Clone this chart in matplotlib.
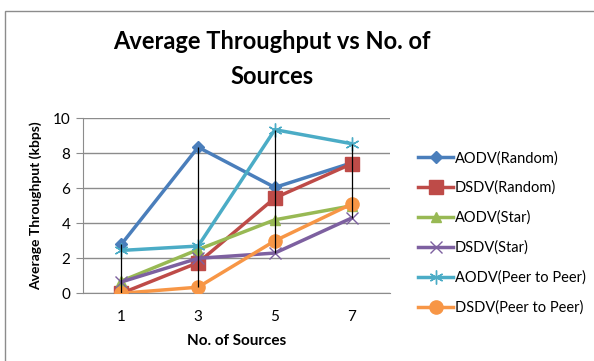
import matplotlib.pyplot as plt
import matplotlib.patches as patches
import numpy as np

plt.rcParams['font.family'] = ['Lato', 'DejaVu Sans']

sources = ['1', '3', '5', '7']
series_names = ['AODV(Random)', 'DSDV(Random)', 'AODV(Star)', 'DSDV(Star)',
                'AODV(Peer to Peer)', 'DSDV(Peer to Peer)']
aodv_random = [2.8, 8.35, 6.05, 7.45]
dsdv_random = [0.0, 1.75, 5.45, 7.4]
aodv_star = [0.7, 2.5, 4.2, 5.0]
dsdv_star = [0.65, 2.0, 2.3, 4.3]
aodv_p2p = [2.45, 2.7, 9.35, 8.55]
dsdv_p2p = [0.0, 0.35, 3.0, 5.1]

colors = ['#4A7EBB', '#BE4B48', '#98B954', '#7D60A0', '#4BACC6', '#F79646']
markers = ['D', 's', '^', 'x', (6, 2, 0), 'o']
msizes = [6.5, 9.5, 7, 8, 10, 9.5]

fig = plt.figure(figsize=(5.94, 3.61), dpi=100)
fig.patches.append(patches.Rectangle((5 / 594, -0.1), 1.2, 1 - 11 / 361 + 0.1,
                                     transform=fig.transFigure, fill=False,
                                     edgecolor='#8c8c8c', linewidth=1))
ax = fig.add_axes([83 / 594, 1 - 293.3 / 361, 307 / 594, 175 / 361])

x = np.arange(len(sources))
all_series = [aodv_random, dsdv_random, aodv_star, dsdv_star, aodv_p2p, dsdv_p2p]

# high-low lines joining the max and min at each category
data = np.array(all_series)
ax.vlines(x, data.min(axis=0), data.max(axis=0), color='black', linewidth=0.9, zorder=4)

for vals, name, c, m, ms in zip(all_series, series_names, colors, markers, msizes):
    ax.plot(x, vals, color=c, marker=m, markersize=ms, linewidth=2.5,
            markeredgewidth=1, label=name, zorder=3)

ax.set_xlim(-0.5, 3.5)
ax.set_ylim(0, 10)
ax.set_xticks(x)
ax.set_xticklabels(sources)
ax.set_yticks(range(0, 11, 2))
ax.tick_params(axis='x', length=0, labelsize=11, pad=12)
ax.tick_params(axis='y', length=5, color='#8c8c8c', labelsize=11, pad=4)
ax.grid(axis='y', color='#8c8c8c', linewidth=1)
ax.set_axisbelow(True)
for s in ['top', 'right']:
    ax.spines[s].set_visible(False)
for s in ['left', 'bottom']:
    ax.spines[s].set_color('#8c8c8c')

ax.set_xlabel('No. of Sources', fontsize=11, fontweight='bold', labelpad=7)
ax.set_ylabel('Average Throughput (kbps)', fontsize=10, fontweight='bold', labelpad=8)

fig.text(272 / 594, 1 - 59 / 361, 'Average Throughput vs No. of\nSources',
         ha='center', va='center', fontsize=17, fontweight='bold', linespacing=1.6)

ax.legend(loc='center left', bbox_to_anchor=(1.05, 0.345), frameon=False,
          fontsize=10.5, handlelength=2.4, handletextpad=0.1, labelspacing=1.07)

fig.savefig('out.png', dpi=100)
